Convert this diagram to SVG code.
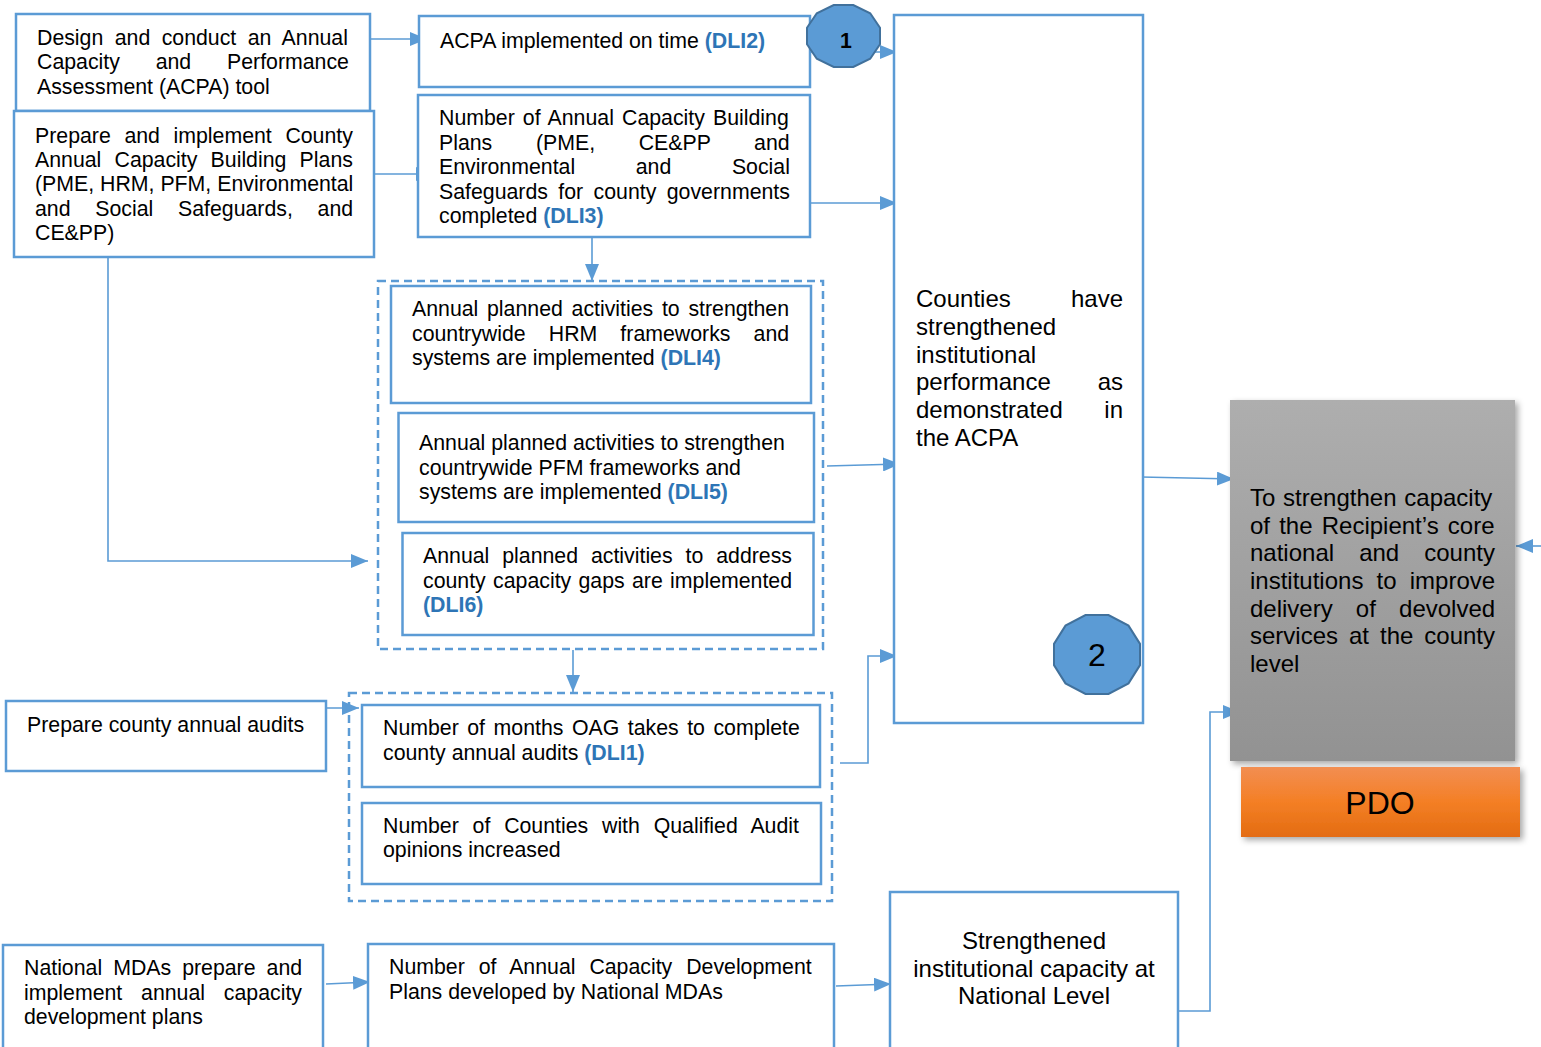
<svg xmlns="http://www.w3.org/2000/svg" width="1541" height="1047" viewBox="0 0 1541 1047">
<defs>
<style>
.box{fill:#fff;stroke:#5B9BD5;stroke-width:2.5}
.dash{fill:none;stroke:#5B9BD5;stroke-width:2.5;stroke-dasharray:8 5}
.con{fill:none;stroke:#5B9BD5;stroke-width:1.6}
.t{font-family:"Liberation Sans",Arial,sans-serif;font-size:21.3px;fill:#000}
.tl{font-family:"Liberation Sans",Arial,sans-serif;font-size:24px;fill:#000}
.big{font-family:"Liberation Sans",Arial,sans-serif;font-size:32px;fill:#000}
.dli{font-weight:bold;fill:#2E75B6}
.oct{fill:#5B9BD5;stroke:#41719C;stroke-width:2}
</style>
<marker id="ah" markerUnits="userSpaceOnUse" markerWidth="17" markerHeight="14" refX="17" refY="7" orient="auto">
<path d="M0,0 L17,7 L0,14 z" fill="#5B9BD5"/>
</marker>
<linearGradient id="gray" x1="0" y1="0" x2="0" y2="1">
<stop offset="0" stop-color="#AEAEAE"/>
<stop offset="1" stop-color="#929292"/>
</linearGradient>
<linearGradient id="orange" x1="0" y1="0" x2="0" y2="1">
<stop offset="0" stop-color="#F28E52"/>
<stop offset="0.5" stop-color="#F47F25"/>
<stop offset="1" stop-color="#E36C12"/>
</linearGradient>
<filter id="sh" x="-10%" y="-10%" width="125%" height="125%">
<feDropShadow dx="3" dy="3" stdDeviation="3" flood-color="#000" flood-opacity="0.35"/>
</filter>
</defs>
<rect width="1541" height="1047" fill="#fff"/>

<g id="connectors">
<line class="con" x1="360" y1="39" x2="427" y2="39" marker-end="url(#ah)"/>
<line class="con" x1="368" y1="174" x2="433" y2="174" marker-end="url(#ah)"/>
<line class="con" x1="810" y1="52" x2="897" y2="52" marker-end="url(#ah)"/>
<line class="con" x1="810" y1="203" x2="897" y2="203" marker-end="url(#ah)"/>
<line class="con" x1="592" y1="237" x2="592" y2="281" marker-end="url(#ah)"/>
<polyline class="con" points="108,257 108,561 368,561" marker-end="url(#ah)"/>
<line class="con" x1="827" y1="466" x2="900" y2="464" marker-end="url(#ah)"/>
<line class="con" x1="573" y1="650" x2="573" y2="692" marker-end="url(#ah)"/>
<line class="con" x1="322" y1="708" x2="359" y2="708" marker-end="url(#ah)"/>
<polyline class="con" points="840,763 868,763 868,656 897,656" marker-end="url(#ah)"/>
<line class="con" x1="326" y1="984" x2="370" y2="982" marker-end="url(#ah)"/>
<line class="con" x1="836" y1="986" x2="891" y2="984" marker-end="url(#ah)"/>
<polyline class="con" points="1178,1011 1210,1011 1210,712 1240,712" marker-end="url(#ah)"/>
<line class="con" x1="1141" y1="477" x2="1234" y2="479" marker-end="url(#ah)"/>
<line class="con" x1="1541" y1="546" x2="1516" y2="546" marker-end="url(#ah)"/>
</g>

<g id="n-design">
<rect class="box" x="16" y="14" width="354" height="97"/>
<text class="t" x="37" y="44.5" word-spacing="5.5">Design and conduct an Annual</text>
<text class="t" x="37" y="69" word-spacing="29.9">Capacity and Performance</text>
<text class="t" x="37" y="93.5">Assessment (ACPA) tool</text>
</g>

<g id="n-prepare-plans">
<rect class="box" x="14" y="111" width="360" height="146"/>
<text class="t" x="35" y="142.5" word-spacing="7.7">Prepare and implement County</text>
<text class="t" x="35" y="167" word-spacing="7.3">Annual Capacity Building Plans</text>
<text class="t" x="35" y="191">(PME, HRM, PFM, Environmental</text>
<text class="t" x="35" y="215.5" word-spacing="18.8">and Social Safeguards, and</text>
<text class="t" x="35" y="240">CE&amp;PP)</text>
</g>

<g id="n-acpa">
<rect class="box" x="419" y="16" width="391" height="71"/>
<text class="t" x="440" y="48">ACPA implemented on time <tspan class="dli">(DLI2)</tspan></text>
</g>

<g id="n-dli3">
<rect class="box" x="418" y="95" width="392" height="142"/>
<text class="t" x="439" y="125" word-spacing="2.2">Number of Annual Capacity Building</text>
<text class="t" x="439" y="149.5" word-spacing="37.7">Plans (PME, CE&amp;PP and</text>
<text class="t" x="439" y="174" word-spacing="54.7">Environmental and Social</text>
<text class="t" x="439" y="198.5" word-spacing="4.5">Safeguards for county governments</text>
<text class="t" x="439" y="223">completed <tspan class="dli">(DLI3)</tspan></text>
</g>

<g id="n-oct1">
<polygon class="oct" points="880,27.7 870.2,13.3 853.3,5 833.7,5 816.8,13.3 807,27.7 807,44.3 816.8,58.7 833.7,67 853.3,67 870.2,58.7 880,44.3"/>
<text class="t" x="846" y="48" text-anchor="middle" font-weight="bold">1</text>
</g>

<g id="n-counties">
<rect class="box" x="894" y="15" width="249" height="708"/>
<text class="tl" x="916" y="307">Counties</text>
<text class="tl" x="1123" y="307" text-anchor="end">have</text>
<text class="tl" x="916" y="335">strengthened</text>
<text class="tl" x="916" y="362.5">institutional</text>
<text class="tl" x="916" y="390">performance</text>
<text class="tl" x="1123" y="390" text-anchor="end">as</text>
<text class="tl" x="916" y="417.5">demonstrated</text>
<text class="tl" x="1123" y="417.5" text-anchor="end">in</text>
<text class="tl" x="916" y="445.5">the ACPA</text>
</g>

<g id="n-oct2">
<polygon class="oct" points="1140,643.9 1128.5,625.6 1108.5,615 1085.5,615 1065.5,625.6 1054,643.9 1054,665.1 1065.5,683.4 1085.5,694 1108.5,694 1128.5,683.4 1140,665.1"/>
<text class="big" x="1097" y="666" text-anchor="middle">2</text>
</g>

<g id="n-group1">
<rect class="dash" x="378" y="281" width="445" height="368"/>
</g>

<g id="n-dli4">
<rect class="box" x="391" y="286" width="420" height="117"/>
<text class="t" x="412" y="316" word-spacing="2.8">Annual planned activities to strengthen</text>
<text class="t" x="412" y="340.5" word-spacing="17.2">countrywide HRM frameworks and</text>
<text class="t" x="412" y="365">systems are implemented <tspan class="dli">(DLI4)</tspan></text>
</g>

<g id="n-dli5">
<rect class="box" x="398.5" y="413" width="415.5" height="109"/>
<text class="t" x="419" y="450">Annual planned activities to strengthen</text>
<text class="t" x="419" y="474.5">countrywide PFM frameworks and</text>
<text class="t" x="419" y="499">systems are implemented <tspan class="dli">(DLI5)</tspan></text>
</g>

<g id="n-dli6">
<rect class="box" x="402.5" y="533" width="411" height="102"/>
<text class="t" x="423" y="563" word-spacing="7">Annual planned activities to address</text>
<text class="t" x="423" y="587.5" word-spacing="1.4">county capacity gaps are implemented</text>
<text class="t dli" x="423" y="612">(DLI6)</text>
</g>

<g id="n-group2">
<rect class="dash" x="349" y="693" width="483" height="208"/>
</g>

<g id="n-audits">
<rect class="box" x="6" y="701" width="320" height="70"/>
<text class="t" x="27" y="732">Prepare county annual audits</text>
</g>

<g id="n-dli1">
<rect class="box" x="362" y="705" width="458" height="82"/>
<text class="t" x="383" y="735" word-spacing="2.6">Number of months OAG takes to complete</text>
<text class="t" x="383" y="759.5">county annual audits <tspan class="dli">(DLI1)</tspan></text>
</g>

<g id="n-qualified">
<rect class="box" x="362" y="803" width="459" height="81"/>
<text class="t" x="383" y="832.5" word-spacing="7.9">Number of Counties with Qualified Audit</text>
<text class="t" x="383" y="857">opinions increased</text>
</g>

<g id="n-mdas">
<rect class="box" x="3" y="945" width="320" height="110"/>
<text class="t" x="24" y="975" word-spacing="5.1">National MDAs prepare and</text>
<text class="t" x="24" y="999.5" word-spacing="12.9">implement annual capacity</text>
<text class="t" x="24" y="1024">development plans</text>
</g>

<g id="n-devplans">
<rect class="box" x="368" y="944" width="466" height="110"/>
<text class="t" x="389" y="974" word-spacing="8">Number of Annual Capacity Development</text>
<text class="t" x="389" y="998.5">Plans developed by National MDAs</text>
</g>

<g id="n-national">
<rect class="box" x="890" y="892" width="288" height="160"/>
<text class="tl" x="1034" y="949" text-anchor="middle">Strengthened</text>
<text class="tl" x="1034" y="977" text-anchor="middle">institutional capacity at</text>
<text class="tl" x="1034" y="1004" text-anchor="middle">National Level</text>
</g>

<g id="n-pdo-goal">
<rect x="1230" y="400" width="285" height="361" fill="url(#gray)" filter="url(#sh)"/>
<text class="tl" x="1250" y="506" word-spacing="1.1">To strengthen capacity</text>
<text class="tl" x="1250" y="533.5" word-spacing="2.5">of the Recipient’s core</text>
<text class="tl" x="1250" y="561" word-spacing="18.4">national and county</text>
<text class="tl" x="1250" y="589" word-spacing="6.5">institutions to improve</text>
<text class="tl" x="1250" y="616.5" word-spacing="16.5">delivery of devolved</text>
<text class="tl" x="1250" y="644" word-spacing="4.3">services at the county</text>
<text class="tl" x="1250" y="671.5">level</text>
</g>

<g id="n-pdo">
<rect x="1241" y="767" width="279" height="70" fill="url(#orange)" filter="url(#sh)"/>
<text class="big" x="1380" y="814" text-anchor="middle">PDO</text>
</g>
</svg>
